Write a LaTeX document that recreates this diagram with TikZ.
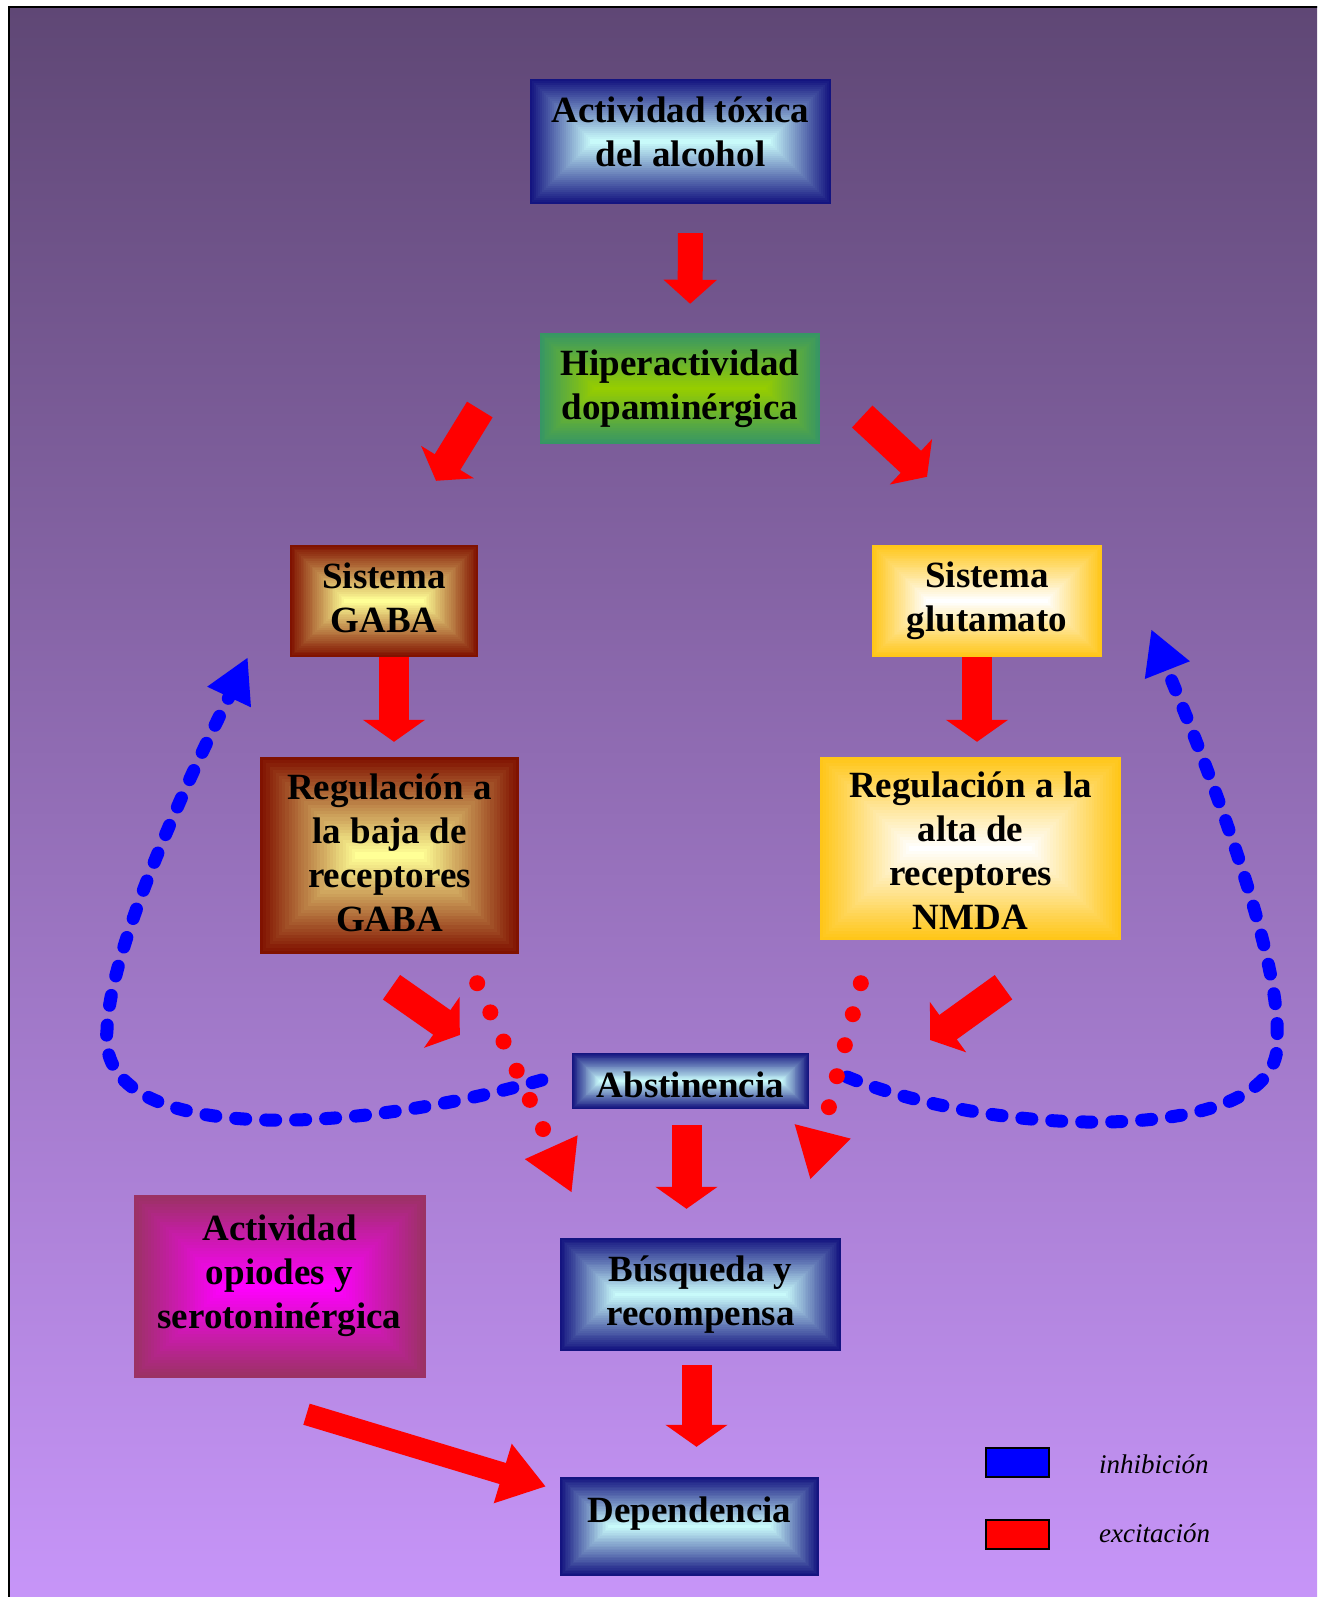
\documentclass[tikz,border=0pt]{standalone}
\usepackage{fontspec}
\setmainfont{Liberation Serif}
\usetikzlibrary{arrows.meta,calc}
\definecolor{bgtop}{RGB}{95,71,117}
\definecolor{bgbot}{RGB}{200,150,250}
\definecolor{navyout}{RGB}{20,20,128}
\definecolor{navyin}{RGB}{200,250,250}
\definecolor{greenout}{RGB}{55,150,100}
\definecolor{greenin}{RGB}{150,205,0}
\definecolor{brownout}{RGB}{128,18,0}
\definecolor{brownin}{RGB}{255,255,150}
\definecolor{goldout}{RGB}{255,198,25}
\definecolor{goldin}{RGB}{255,255,255}
\definecolor{magout}{RGB}{155,50,100}
\definecolor{magin}{RGB}{255,0,255}
\begin{document}
\begin{tikzpicture}
	[x=1pt,y=-1pt,
	gbox/.style 2 args={fill=#1,inner sep=0pt,align=center,
		font=\bfseries\fontsize{37}{44}\selectfont,
		path picture={
			\foreach \k in {1,...,30}{
				\pgfmathtruncatemacro\gpct{\k*100/30}
				\fill[#2!\gpct!#1] let \p1=(path picture bounding box.south west),
					\p2=(path picture bounding box.north east),
					\n1={\k*(\y2-\y1)/62} in
					(\x1+\n1,\y1+\n1) rectangle (\x2-\n1,\y2-\n1);
			}}},
	bigred/.style={draw=red,line width=30pt,-{Triangle[width=61pt,length=22pt]}},
	dotred/.style={draw=red,line width=16pt,line cap=round,dash pattern=on 0pt off 32pt,
		-{Triangle[width=54pt,length=50pt]}},
	bluedash/.style={draw=blue,line width=13pt,line cap=round,dash pattern=on 10pt off 20pt,
		-{Triangle[width=45pt,length=44pt]}},
	legbox/.style={draw=black,line width=2pt,minimum width=63pt,minimum height=29pt,inner sep=0pt},
	legtxt/.style={anchor=west,inner sep=0pt,font=\itshape\fontsize{27}{32}\selectfont}
	]
	\useasboundingbox (0,0) rectangle (1317,1597);
	\clip (0,0) rectangle (1317,1597);
	\fill[white] (0,0) rectangle (1317,1597);
	\shade[top color=bgtop,bottom color=bgbot] (9,7) rectangle (1340,1620);
	\draw[line width=2.5pt] (9,1620) -- (9,7) -- (1340,7);

	\node[gbox={navyout}{navyin},minimum width=301pt,text height=88pt,text depth=37pt] (tox) at (680.5,141.5) {Actividad tóxica\\del alcohol};
	\node[gbox={greenout}{greenin},minimum width=280pt,minimum height=111pt] (hiper) at (680,388.5) {Hiperactividad\\dopaminérgica};
	\node[gbox={brownout}{brownin},minimum width=188pt,text height=87pt,text depth=25pt] (gaba) at (384,601) {Sistema\\GABA};
	\node[gbox={goldout}{goldin},minimum width=230pt,minimum height=112pt] (glut) at (987,601) {Sistema\\glutamato};
	\node[gbox={brownout}{brownin},minimum width=259pt,text height=174pt,text depth=23pt] (reggaba) at (389.5,855.5) {Regulación a\\la baja de\\receptores\\GABA};
	\node[gbox={goldout}{goldin},minimum width=301pt,text height=172pt,text depth=11pt] (regnmda) at (970.5,848.5) {Regulación a la\\alta de\\receptores\\NMDA};
	\node[gbox={navyout}{navyin},minimum width=237pt,text height=44pt,text depth=12pt] (abst) at (690.5,1081) {Abstinencia};
	\node[gbox={navyout}{navyin},minimum width=281pt,minimum height=113pt] (busq) at (700.5,1294.5) {Búsqueda y\\recompensa};
	\node[gbox={magout}{magin},minimum width=292pt,text height=133pt,text depth=50pt] (opi) at (279.5,1286.5) {Actividad\\opiodes y\\serotoninérgica};
	\node[gbox={navyout}{navyin},minimum width=259pt,text height=45pt,text depth=54pt] (dep) at (689.5,1526.5) {Dependencia};

	\node[legbox,fill=blue] (leginh) at (1017.5,1462.5) {};
	\node[legbox,fill=red] (legexc) at (1017.5,1534) {};
	\node[legtxt] (txtinh) at (1099,1464) {inhibición};
	\node[legtxt] (txtexc) at (1099,1533) {excitación};

	\draw[draw=red,line width=25pt,-{Triangle[width=52pt,length=24pt]},shorten <=29pt,shorten >=29pt] ([xshift=10pt]tox.south) -- ([xshift=10pt]hiper.north);
	\draw[bigred] ($(hiper.west)+(-60,21)$) -- ($(gaba.north)+(52,-64)$);
	\draw[bigred] ($(hiper.east)+(42,28)$) -- ($(glut.north)+(-60,-68)$);
	\draw[bigred,shorten >=15pt] ([xshift=10pt]gaba.south) -- ([xshift=10pt]gaba.south |- reggaba.north);
	\draw[bigred,shorten >=15pt] ([xshift=-10pt]glut.south) -- ([xshift=-10pt]glut.south |- regnmda.north);
	\draw[bigred] ($(reggaba.south)+(2,33)$) -- ($(abst.west)+(-112,-46)$);
	\draw[bigred] ($(regnmda.south)+(33,47)$) -- ($(abst.east)+(121,-41)$);
	\draw[bigred,shorten <=16pt,shorten >=29pt] ([xshift=-4pt]abst.south) -- ([xshift=-4pt]abst.south |- busq.north);
	\draw[bigred,shorten <=14pt,shorten >=30pt] ([xshift=-4pt]busq.south) -- ([xshift=-4pt]busq.south |- dep.north);
	\draw[draw=red,line width=22pt,-{Triangle[width=59pt,length=45pt]}] ($(opi.south)+(27,36)$) -- ($(dep.west)+(-14,-40)$);

	\coordinate (lturn) at (107,1030);
	\coordinate (rturn) at (1277,1040);
	\draw[bluedash] ($(abst.west)+(-30,-1)$) .. controls (330,1140) and (95,1140) .. (lturn)
		.. controls (110,930) and (230,695) .. ($(gaba.south west)+(-42,0)$);
	\draw[bluedash] ($(abst.east)+(38,-4)$) .. controls (1000,1140) and (1285,1145) .. (rturn)
		.. controls (1283,940) and (1172,682) .. ($(glut.south east)+(49,-28)$);

	\draw[dotred] ($(reggaba.south east)+(-42,29)$) -- ($(busq.north west)+(12,-45)$);
	\draw[dotred] ($(regnmda.south west)+(41,43)$) -- ($(busq.north east)+(-31,-58)$);
\end{tikzpicture}
\end{document}
